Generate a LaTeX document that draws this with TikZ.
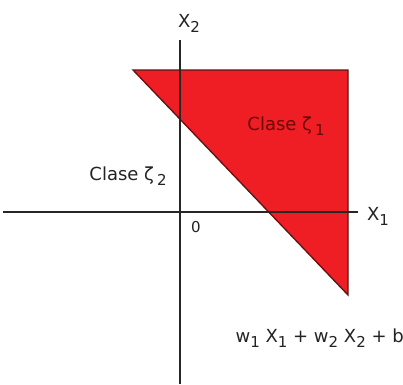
\documentclass[tikz,border=0pt]{standalone}
\usepackage{fontspec}
\setmainfont{DejaVu Sans}
\usepackage{xcolor}
\usetikzlibrary{positioning}

\definecolor{regionred}{RGB}{238,30,36}
\definecolor{edgered}{RGB}{90,20,20}
\definecolor{labelred}{RGB}{105,8,8}
\definecolor{labelgray}{RGB}{35,35,35}

% lowered index, a bit larger than \textsubscript
\newcommand\lowidx[1]{\raisebox{-0.5ex}{\fontsize{15}{15}\selectfont#1}}

\begin{document}
\begin{tikzpicture}[
    x=1pt, y=-1pt,
    axis/.style={
        draw=black!85,
        line width=1.5pt
    },
    region/.style={
        fill=regionred,
        draw=edgered,
        line width=1.3pt,
        line join=miter
    },
    label/.style={
        font=\fontsize{18}{20}\selectfont,
        text=labelgray,
        inner sep=1pt
    },
    classlabel/.style={
        label,
        text=labelred
    }
]
\useasboundingbox (0,0) rectangle (403,384);

% corners of the region
\coordinate (top left) at (133,70);
\coordinate (top right) at (348,70);
\coordinate (bottom) at (348,295);

% axes ends
\coordinate (x west) at (3,212);
\coordinate (x east) at (358,212);
\coordinate (y north) at (180,40);
\coordinate (y south) at (180,384);

% class region
\filldraw[region] (top left) -- (top right) -- (bottom) -- cycle;

% axes
\draw[axis] (x west) -- (x east);
\draw[axis] (y south) -- (y north);

% axis labels
\node[label] (xone) at (378,216) {X\lowidx{1}};
\node[label] (xtwo) at (189,23) {X\lowidx{2}};
\node[label, font=\fontsize{15}{17}\selectfont] (origin) at (196,227) {0};

% class labels
\node[classlabel] (class one) at (286,126) {Clase ζ\,\lowidx{1}};
\node[label] (class two) at (128,176) {Clase ζ\,\lowidx{2}};

% boundary
\node[label, anchor=east] (boundary) at (405,338)
{w\lowidx{1} X\lowidx{1} + w\lowidx{2} X\lowidx{2} + b};

\end{tikzpicture}
\end{document}
